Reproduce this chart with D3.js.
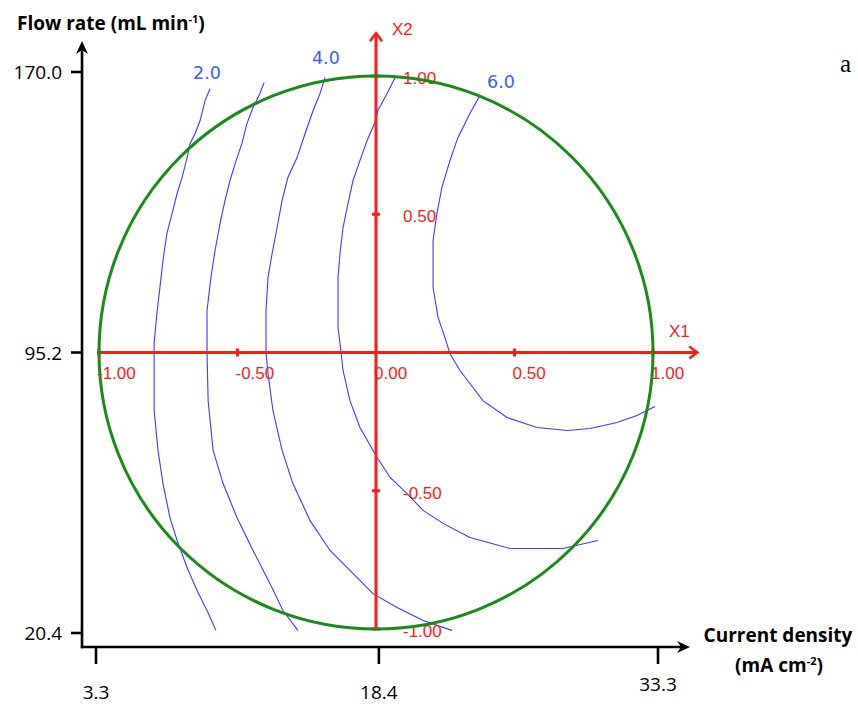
<!DOCTYPE html>
<html><head><meta charset="utf-8">
<script src="https://cdn.jsdelivr.net/npm/d3@7"></script>
<style>html,body{margin:0;padding:0;background:#fff;}svg{display:block;}</style>
</head><body>
<script>
// ---- data ----
const outerXTicks = [3.3, 18.4, 33.3];
const outerYTicks = [20.4, 95.2, 170.0];
const codedTicks = [-1, -0.5, 0, 0.5, 1];
const codedTickLabels = ["-1.00", "-0.50", "0.00", "0.50", "1.00"];
const contourLevels = [2.0, 3.0, 4.0, 5.0, 6.0];
const labelledLevels = ["2.0", "4.0", "6.0"];
// contour lines in coded units [X1, X2]
const c2 = [[-0.599,0.955],[-0.617,0.911],[-0.635,0.839],[-0.653,0.792],[-0.671,0.756],[-0.682,0.705],[-0.700,0.633],[-0.718,0.575],[-0.736,0.503],[-0.755,0.430],[-0.769,0.333],[-0.780,0.235],[-0.791,0.141],[-0.801,0.033],[-0.801,-0.210],[-0.787,-0.354],[-0.769,-0.474],[-0.744,-0.597],[-0.718,-0.680],[-0.682,-0.778],[-0.646,-0.861],[-0.610,-0.933],[-0.578,-1.005]];
const c3 = [[-0.404,0.976],[-0.419,0.937],[-0.444,0.886],[-0.466,0.828],[-0.484,0.756],[-0.505,0.694],[-0.527,0.622],[-0.545,0.550],[-0.563,0.467],[-0.581,0.369],[-0.596,0.271],[-0.610,0.152],[-0.610,0.000],[-0.606,-0.174],[-0.588,-0.354],[-0.552,-0.474],[-0.502,-0.597],[-0.444,-0.716],[-0.383,-0.835],[-0.336,-0.933],[-0.282,-1.005]];
const c4 = [[-0.184,0.995],[-0.202,0.937],[-0.227,0.875],[-0.256,0.792],[-0.285,0.705],[-0.318,0.633],[-0.339,0.550],[-0.357,0.452],[-0.375,0.358],[-0.390,0.271],[-0.397,0.152],[-0.397,0.000],[-0.390,-0.076],[-0.372,-0.210],[-0.339,-0.354],[-0.300,-0.474],[-0.238,-0.608],[-0.166,-0.716],[-0.094,-0.788],[-0.011,-0.872],[0.076,-0.922],[0.170,-0.969],[0.274,-1.005]];
const c5 = [[0.069,0.995],[0.040,0.937],[0.007,0.875],[-0.004,0.832],[-0.032,0.767],[-0.058,0.694],[-0.083,0.622],[-0.101,0.539],[-0.119,0.452],[-0.130,0.358],[-0.137,0.271],[-0.137,0.090],[-0.126,0.000],[-0.119,-0.065],[-0.094,-0.174],[-0.058,-0.271],[0.004,-0.380],[0.051,-0.452],[0.112,-0.510],[0.170,-0.571],[0.242,-0.618],[0.339,-0.669],[0.484,-0.709],[0.675,-0.709],[0.801,-0.680]];
const c6 = [[0.375,0.929],[0.339,0.864],[0.296,0.778],[0.267,0.694],[0.238,0.597],[0.220,0.503],[0.206,0.405],[0.206,0.235],[0.224,0.127],[0.249,0.054],[0.267,-0.004],[0.303,-0.065],[0.339,-0.112],[0.386,-0.174],[0.473,-0.235],[0.581,-0.271],[0.690,-0.282],[0.773,-0.275],[0.870,-0.253],[0.942,-0.228],[1.007,-0.195]];
const contours = [c2, c3, c4, c5, c6];
// label anchor positions (coded units) for the labelled levels
const labelPos = [[-0.61, 0.99], [-0.181, 1.045], [0.451, 0.955]];

const W = 858, H = 709;
const svg = d3.select("body").append("svg").attr("width", W).attr("height", H);

// scales
const sx = d3.scaleLinear().domain([-1, 1]).range([99, 653]);
const sy = d3.scaleLinear().domain([-1, 1]).range([629, 76]);
const ox = d3.scaleLinear().domain([3.3, 33.3]).range([96, 658]);
const oy = d3.scaleLinear().domain([20.4, 170.0]).range([633, 72]);

const RED = "#ff1a1a", BLUE = "#3a3aff", GREEN = "#1b8a1b";
const blackFont = "'Open Sans', Lato, sans-serif";

// ---- outer black axes ----
const axisY0 = 647, axisX0 = 82;
const g0 = svg.append("g");
g0.append("line").attr("x1", axisX0).attr("x2", axisX0).attr("y1", 50).attr("y2", axisY0 + 1.2)
  .attr("stroke", "#000").attr("stroke-width", 2.6);
g0.append("line").attr("x1", axisX0 - 1.2).attr("x2", 682).attr("y1", axisY0).attr("y2", axisY0)
  .attr("stroke", "#000").attr("stroke-width", 2.6);
g0.append("path").attr("d", `M${axisX0},41 L${axisX0+6},54 L${axisX0},50 L${axisX0-6},54 Z`).attr("fill", "#000");
g0.append("path").attr("d", `M690,${axisY0} L677,${axisY0-6} L681,${axisY0} L677,${axisY0+6} Z`).attr("fill", "#000");

outerYTicks.forEach(v => {
  g0.append("line").attr("x1", 71).attr("x2", axisX0).attr("y1", oy(v)).attr("y2", oy(v))
    .attr("stroke", "#000").attr("stroke-width", 2.6);
  g0.append("text").attr("x", 62).attr("y", oy(v) + 7).attr("text-anchor", "end")
    .attr("font-family", blackFont).attr("font-size", 19).attr("fill", "#000").text(v.toFixed(1));
});
outerXTicks.forEach((v, i) => {
  g0.append("line").attr("x1", ox(v)).attr("x2", ox(v)).attr("y1", axisY0).attr("y2", 664)
    .attr("stroke", "#000").attr("stroke-width", 2.6);
  g0.append("text").attr("x", ox(v)).attr("y", i === 2 ? 691 : 699).attr("text-anchor", "middle")
    .attr("font-family", blackFont).attr("font-size", 19).attr("fill", "#000").text(v.toFixed(1));
});

// axis titles
const t1 = g0.append("text").attr("x", 17).attr("y", 30).attr("font-family", blackFont)
  .attr("font-weight", "bold").attr("font-size", 19).attr("fill", "#000");
t1.append("tspan").text("Flow rate (mL min");
t1.append("tspan").attr("font-size", 11).attr("dy", -7).text("-1");
t1.append("tspan").attr("dy", 7).text(")");

g0.append("text").attr("x", 778).attr("y", 642).attr("text-anchor", "middle")
  .attr("font-family", blackFont).attr("font-weight", "bold").attr("font-size", 19).attr("fill", "#000")
  .text("Current density");
const t3 = g0.append("text").attr("x", 779).attr("y", 672).attr("text-anchor", "middle")
  .attr("font-family", blackFont).attr("font-weight", "bold").attr("font-size", 19).attr("fill", "#000");
t3.append("tspan").text("(mA cm");
t3.append("tspan").attr("font-size", 11).attr("dy", -7).text("-2");
t3.append("tspan").attr("dy", 7).text(")");

svg.append("text").attr("x", 840).attr("y", 72).attr("font-family", "'Liberation Serif', 'Times New Roman', serif")
  .attr("font-size", 25).attr("fill", "#000").text("a");

// ---- contour lines ----
const line = d3.line().x(d => sx(d[0])).y(d => sy(d[1]));
svg.append("g").selectAll("path").data(contours).join("path")
  .attr("d", line).attr("fill", "none").attr("stroke", BLUE).attr("stroke-width", 1.1);

// ---- red coded axes ----
const gr = svg.append("g");
gr.append("line").attr("x1", sx(-1.007)).attr("x2", sx(1.16)).attr("y1", sy(0)).attr("y2", sy(0))
  .attr("stroke", RED).attr("stroke-width", 3);
gr.append("line").attr("x1", sx(0)).attr("x2", sx(0)).attr("y1", sy(-1)).attr("y2", sy(1.155))
  .attr("stroke", RED).attr("stroke-width", 3);
gr.append("path").attr("d", `M${sx(1.16)-8},${sy(0)-6} L${sx(1.16)},${sy(0)} L${sx(1.16)-8},${sy(0)+6}`)
  .attr("fill", "none").attr("stroke", RED).attr("stroke-width", 2.5);
gr.append("path").attr("d", `M${sx(0)-6},${sy(1.155)+8} L${sx(0)},${sy(1.155)} L${sx(0)+6},${sy(1.155)+8}`)
  .attr("fill", "none").attr("stroke", RED).attr("stroke-width", 2.5);
codedTicks.filter(v => v !== 0).forEach(v => {
  gr.append("line").attr("x1", sx(v)).attr("x2", sx(v)).attr("y1", sy(0) - 4).attr("y2", sy(0) + 4)
    .attr("stroke", RED).attr("stroke-width", 3);
  gr.append("line").attr("x1", sx(0) - 4).attr("x2", sx(0) + 4).attr("y1", sy(v)).attr("y2", sy(v))
    .attr("stroke", RED).attr("stroke-width", 3);
});
const redFont = "'Liberation Sans', Arial, sans-serif";
codedTicks.forEach((v, i) => {
  gr.append("text").attr("x", sx(v) - 2).attr("y", sy(0) + 26).attr("font-family", redFont)
    .attr("font-size", 17).attr("fill", RED).text(codedTickLabels[i]);
  if (v !== 0) {
    gr.append("text").attr("x", sx(0) + 27).attr("y", sy(v) + 8).attr("font-family", redFont)
      .attr("font-size", 17).attr("fill", RED).text(codedTickLabels[i]);
  }
});
gr.append("text").attr("x", 669).attr("y", 337).attr("font-family", redFont).attr("font-size", 17)
  .attr("fill", RED).text("X1");
gr.append("text").attr("x", 392).attr("y", 35).attr("font-family", redFont).attr("font-size", 17)
  .attr("fill", RED).text("X2");

// ---- green design circle ----
svg.append("ellipse").attr("cx", sx(0)).attr("cy", sy(0))
  .attr("rx", sx(1) - sx(0)).attr("ry", sy(-1) - sy(0))
  .attr("fill", "none").attr("stroke", GREEN).attr("stroke-width", 3);

// ---- contour labels ----
svg.append("g").selectAll("text").data(labelledLevels).join("text")
  .attr("x", (d, i) => sx(labelPos[i][0])).attr("y", (d, i) => sy(labelPos[i][1]))
  .attr("text-anchor", "middle").attr("font-family", "'DejaVu Sans', Verdana, sans-serif")
  .attr("font-size", 17.5).attr("fill", "#3d5cff").text(d => d);
</script>
</body></html>
